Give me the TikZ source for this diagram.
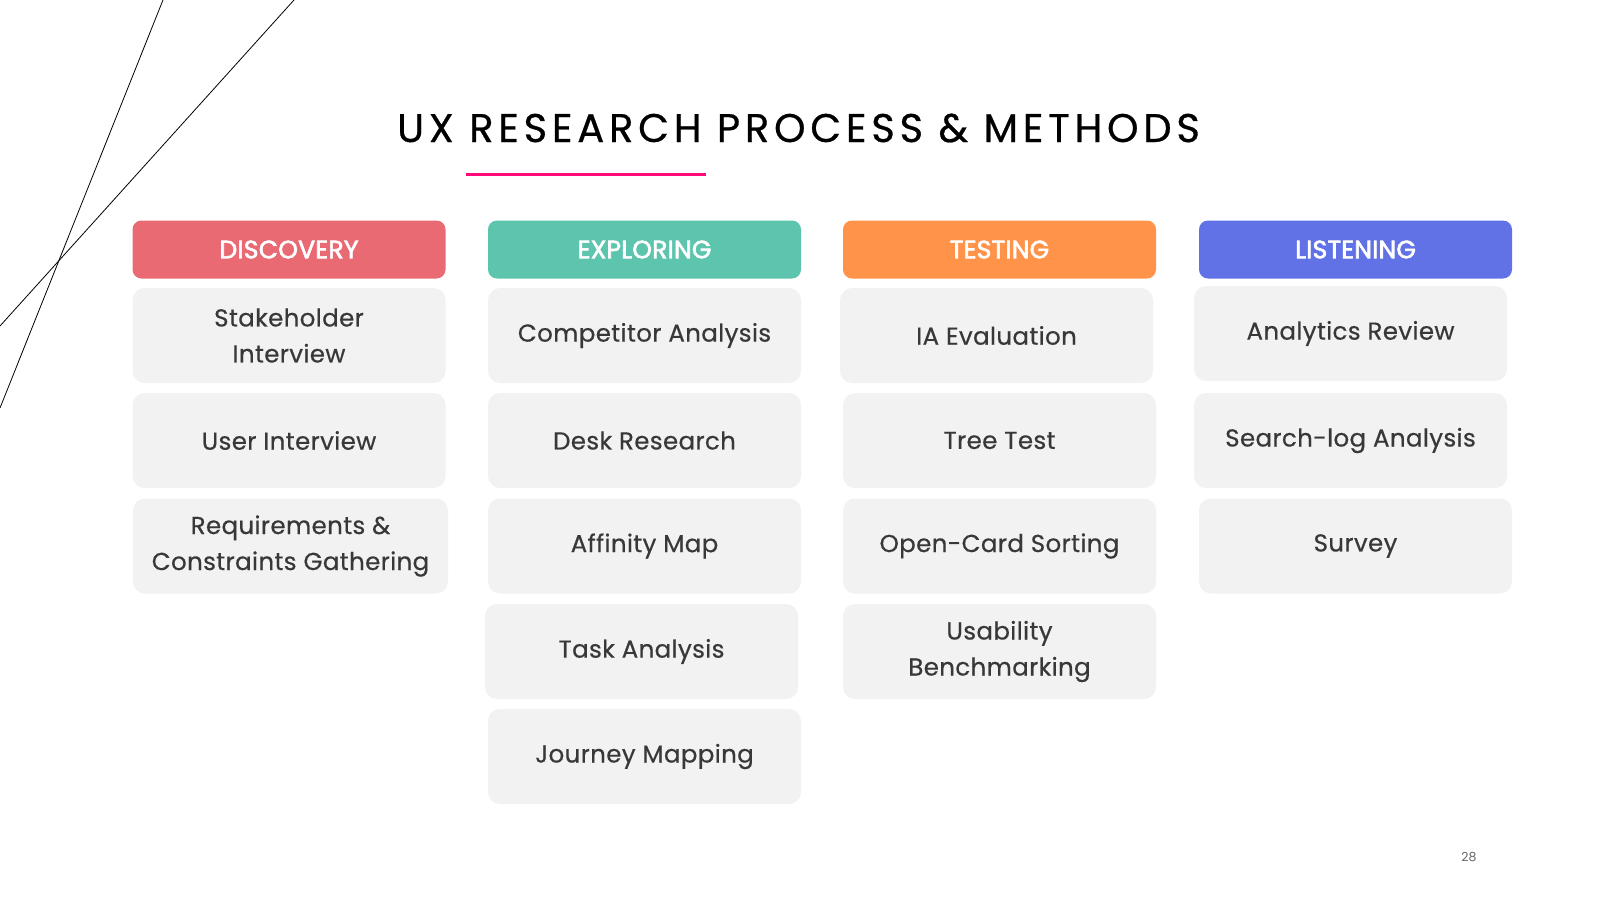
\documentclass[tikz,border=0pt]{standalone}
\usepackage{fontspec}
\setmainfont{Poppins}
\newfontfamily\titlefont[LetterSpace=12,FakeBold=0.6]{Poppins}
\newfontfamily\itemfont[LetterSpace=1.5,FakeBold=0.5]{Poppins}
\newfontfamily\headfont[FakeBold=2.6,LetterSpace=1]{Poppins}
\definecolor{discc}{HTML}{E96A73}
\definecolor{explc}{HTML}{5DC4AE}
\definecolor{testc}{HTML}{FF934A}
\definecolor{listc}{HTML}{6172E7}
\definecolor{itemfill}{HTML}{F2F2F2}
\definecolor{itemtext}{HTML}{383838}
\definecolor{accent}{HTML}{FF0A78}
\begin{document}
\begin{tikzpicture}[x=1pt,y=-1pt,
  header/.style={rectangle, rounded corners=9pt, minimum width=313pt, minimum height=58pt, inner sep=0pt, text=white, font=\headfont\fontsize{25}{28}\selectfont},
  item/.style={rectangle, rounded corners=12pt, fill=itemfill, minimum width=313pt, minimum height=95pt, inner sep=0pt, align=center, text=itemtext, font=\itemfont\fontsize{24.5}{36}\selectfont},
  deco/.style={black, line width=0.8pt}]
\useasboundingbox[fill=white] (0,0) rectangle (1600,900);
% decorative lines
\coordinate (l1a) at (163,0); \coordinate (l1b) at (0,408);
\coordinate (l2a) at (294,0); \coordinate (l2b) at (0,326);
\draw[deco] (l1a) -- (l1b);
\draw[deco] (l2a) -- (l2b);
% title
\node[anchor=base, inner sep=0pt, font=\titlefont\fontsize{40}{48}\selectfont] (title) at (798.5,142) {UX RESEARCH PROCESS \& METHODS};
\coordinate (ula) at (466,174.5); \coordinate (ulb) at (706,174.5);
\draw[accent, line width=3.5pt] (ula) -- (ulb);
% headers
\node[header, fill=discc] (hdisc) at (289,249.5) {DISCOVERY};
\node[header, fill=explc] (hexpl) at (644.5,249.5) {EXPLORING};
\node[header, fill=testc] (htest) at (999.5,249.5) {TESTING};
\node[header, fill=listc] (hlist) at (1355.5,249.5) {LISTENING};
% discovery
\node[item] (d1) at (289,335.5) {Stakeholder\\Interview};
\node[item] (d2) at (289,440.5) {User Interview};
\node[item, minimum width=315pt] (d3) at (290.5,546) {Requirements \&\\Constraints Gathering};
% exploring
\node[item] (e1) at (644.5,335.5) {Competitor Analysis};
\node[item] (e2) at (644.5,440.5) {Desk Research};
\node[item] (e3) at (644.5,546) {Affinity Map};
\node[item] (e4) at (641.5,651.5) {Task Analysis};
\node[item] (e5) at (644.5,756.5) {Journey Mapping};
% testing
\node[item] (t1) at (996.5,335.5) {IA Evaluation};
\node[item] (t2) at (999.5,440.5) {Tree Test};
\node[item] (t3) at (999.5,546) {Open-Card Sorting};
\node[item] (t4) at (999.5,651.5) {Usability\\Benchmarking};
% listening
\node[item] (s1) at (1350.5,333.5) {Analytics Review};
\node[item] (s2) at (1350.5,440.5) {Search-log Analysis};
\node[item] (s3) at (1355.5,546) {Survey};
% page number
\node[anchor=base, inner sep=0pt, text=black!60, font=\fontsize{12.5}{14}\selectfont] (pnum) at (1469,861) {28};
\end{tikzpicture}
\end{document}
